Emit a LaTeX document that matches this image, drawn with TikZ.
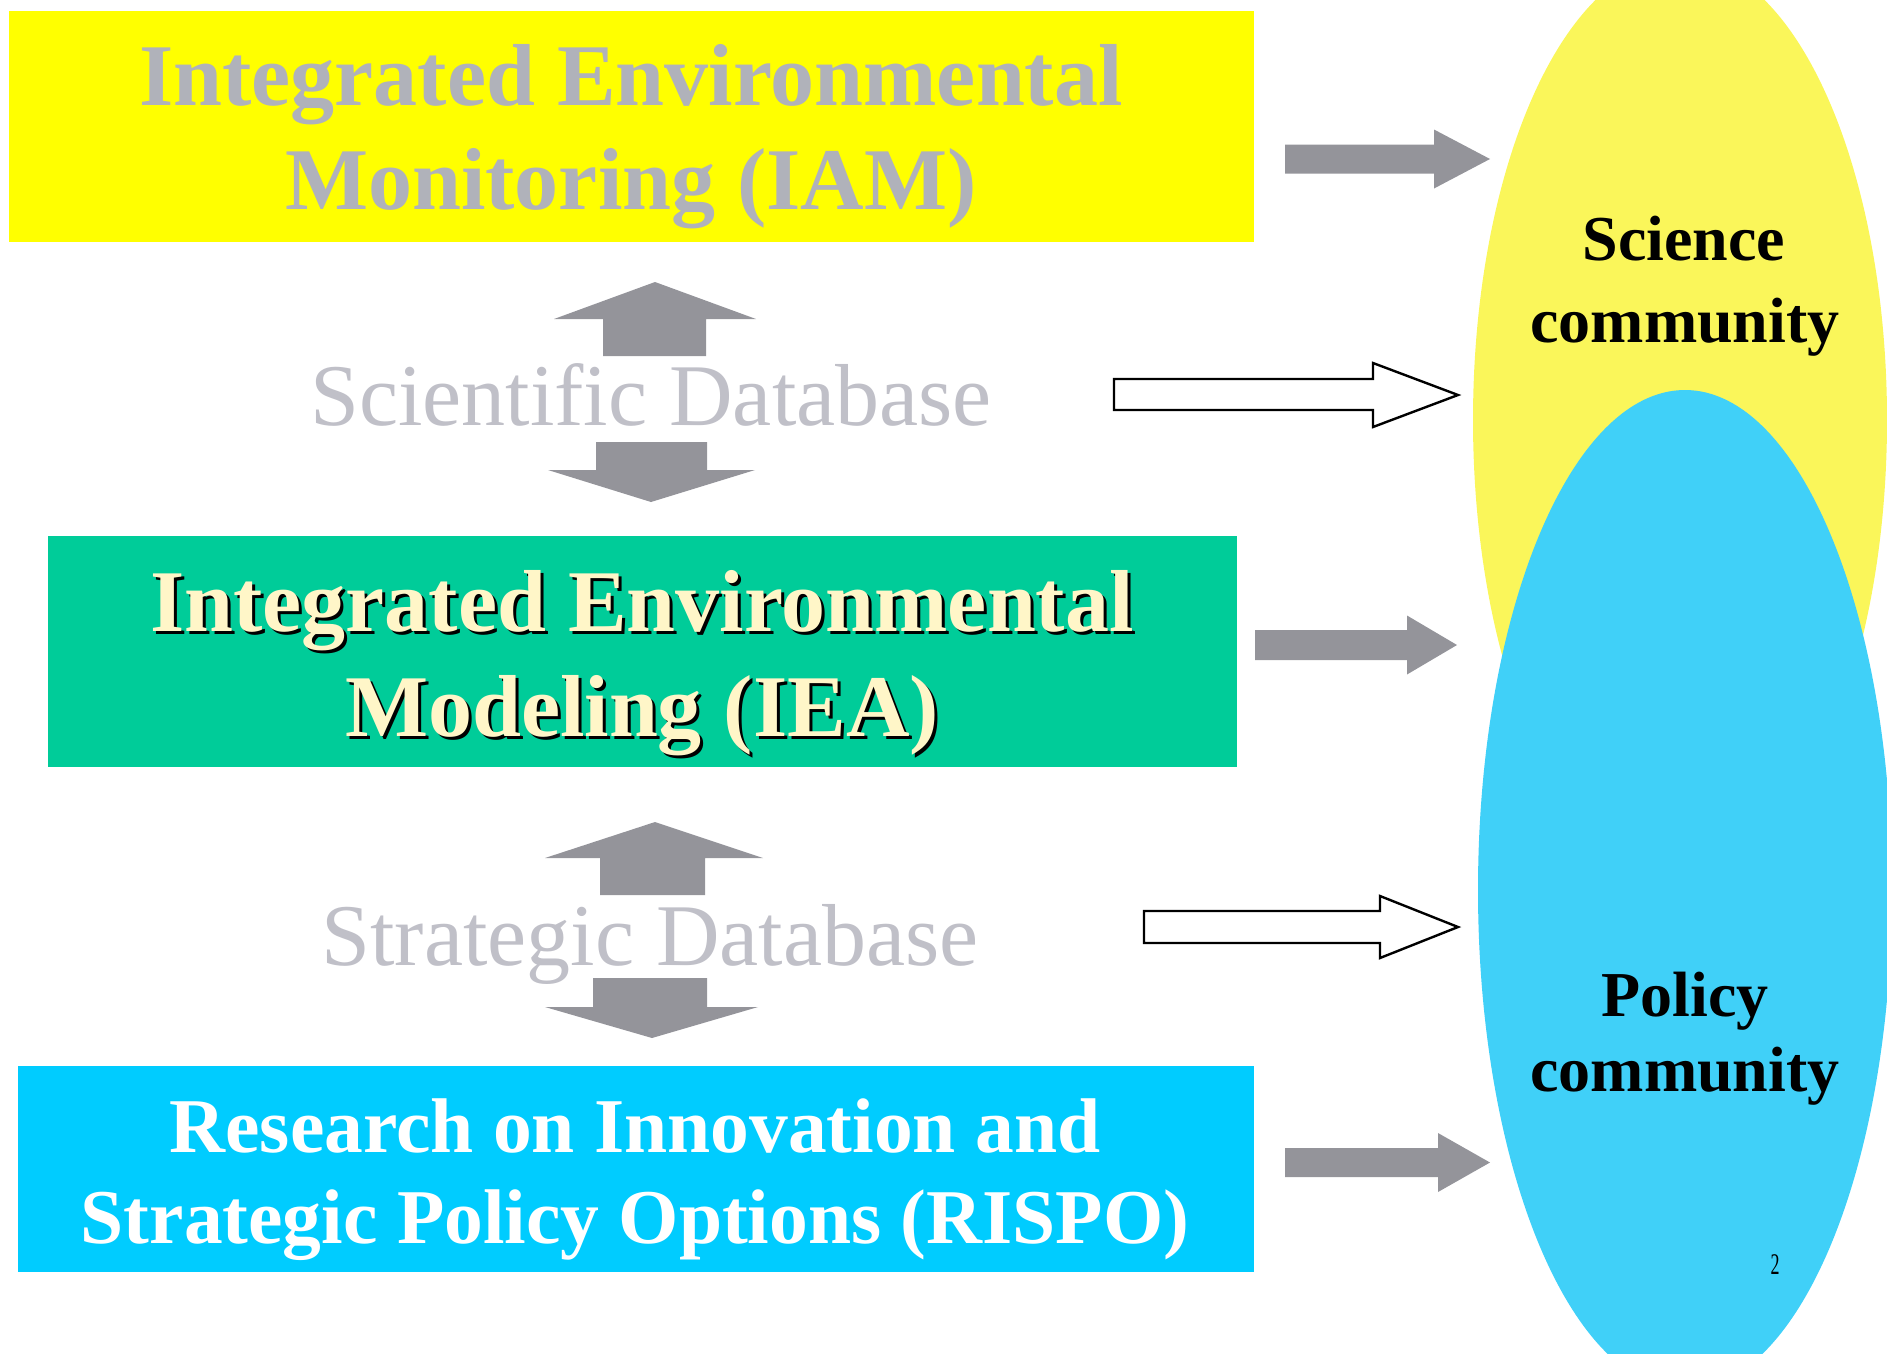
\documentclass[tikz,border=0pt]{standalone}
\usepackage{fontspec}
\setmainfont{Liberation Serif}[Ligatures=CommonOff]
\usetikzlibrary{shapes.geometric}
\definecolor{boxyellow}{RGB}{255,255,0}
\definecolor{boxgreen}{RGB}{0,204,153}
\definecolor{boxcyan}{RGB}{0,204,255}
\definecolor{ellyellow}{RGB}{250,246,90}
\definecolor{ellblue}{RGB}{64,208,248}
\definecolor{arrgray}{RGB}{148,148,154}
\definecolor{iamtext}{RGB}{176,178,186}
\definecolor{dbtext}{RGB}{192,192,200}
\definecolor{cream}{RGB}{255,246,200}
\newcommand\iamfont{\fontsize{88}{100}\selectfont\bfseries}
\newcommand\dbfont{\fontsize{88}{100}\selectfont}
\newcommand\rispofont{\fontsize{77.5}{90}\selectfont\bfseries}
\newcommand\commfont{\fontsize{64}{75}\selectfont\bfseries}
\begin{document}
\begin{tikzpicture}[x=1pt,y=-1pt,
  box/.style={draw=none,inner sep=0pt,outer sep=0pt},
  txt/.style={anchor=base,inner sep=0pt,outer sep=0pt},
  community/.style={ellipse,draw=none,inner sep=0pt,outer sep=0pt},
  grayarrow/.style={fill=arrgray,draw=none},
  whitearrow/.style={fill=white,draw=black,line width=2.4pt,line join=miter}]
\path[use as bounding box] (0,0) rectangle (1887,1353);
\clip (0,0) rectangle (1887,1353);
% community ellipses
\node[community,fill=ellyellow,minimum width=414pt,minimum height=920pt] (scicomm) at (1680,420) {};
\node[community,fill=ellblue,minimum width=414pt,minimum height=1000pt] (polcomm) at (1685,890) {};
% boxes
\node[box,fill=boxyellow,minimum width=1245pt,minimum height=231pt] (iam) at (631.5,126.5) {};
\node[box,fill=boxgreen,minimum width=1189pt,minimum height=231pt] (iea) at (642.5,651.5) {};
\node[box,fill=boxcyan,minimum width=1236pt,minimum height=206pt] (rispo) at (636,1169) {};
% box texts
\node[txt,font=\iamfont,text=iamtext] (iam1) at (631,105) {Integrated Environmental};
\node[txt,font=\iamfont,text=iamtext] (iam2) at (631,209) {Monitoring (IAM)};
\node[txt,font=\iamfont,text=black] (iea1s) at (645,634) {Integrated Environmental};
\node[txt,font=\iamfont,text=black] (iea2s) at (645,739) {Modeling (IEA)};
\node[txt,font=\iamfont,text=cream] (iea1) at (642,631) {Integrated Environmental};
\node[txt,font=\iamfont,text=cream] (iea2) at (642,736) {Modeling (IEA)};
\node[txt,font=\rispofont,text=white] (rispo1) at (635,1152) {Research on Innovation and};
\node[txt,font=\rispofont,text=white] (rispo2) at (635,1243) {Strategic Policy Options (RISPO)};
% database labels
\node[txt,font=\dbfont,text=dbtext] (scidb) at (651,425) {Scientific Database};
\node[txt,font=\dbfont,text=dbtext] (stratdb) at (650,965) {Strategic Database};
% community labels
\node[txt,font=\commfont] (sci1) at (1684,260) {Science};
\node[txt,font=\commfont] (sci2) at (1685,342) {community};
\node[txt,font=\commfont] (pol1) at (1685,1016) {Policy};
\node[txt,font=\commfont] (pol2) at (1685,1091) {community};
\node[txt,font=\fontsize{30}{30}\selectfont] (pagenum) at (1775,1274) {\scalebox{0.6}[1]{2}};
% vertical gray arrows
\fill[grayarrow] (655,282)--(756,319)--(706,319)--(706,356)--(603,356)--(603,319)--(554,319)--cycle;
\fill[grayarrow] (596,442)--(707,442)--(707,470)--(755,470)--(651,502)--(548,470)--(596,470)--cycle;
\fill[grayarrow] (655,822)--(763,858)--(705,858)--(705,895)--(600,895)--(600,858)--(545,858)--cycle;
\fill[grayarrow] (593,978)--(707,978)--(707,1007)--(758,1007)--(652,1038)--(545,1007)--(593,1007)--cycle;
% right gray arrows
\fill[grayarrow] (1285,144.5)--(1434,144.5)--(1434,129.5)--(1490,159)--(1434,188.5)--(1434,173.5)--(1285,173.5)--cycle;
\fill[grayarrow] (1255,630)--(1407,630)--(1407,615.5)--(1457,645)--(1407,674.5)--(1407,660)--(1255,660)--cycle;
\fill[grayarrow] (1285,1148)--(1438,1148)--(1438,1133)--(1490,1162.5)--(1438,1192)--(1438,1177)--(1285,1177)--cycle;
% white outlined arrows
\draw[whitearrow] (1114,379)--(1373,379)--(1373,363)--(1458,395)--(1373,427)--(1373,410)--(1114,410)--cycle;
\draw[whitearrow] (1144,911)--(1380,911)--(1380,896)--(1458,927)--(1380,958)--(1380,943)--(1144,943)--cycle;
\end{tikzpicture}
\end{document}
